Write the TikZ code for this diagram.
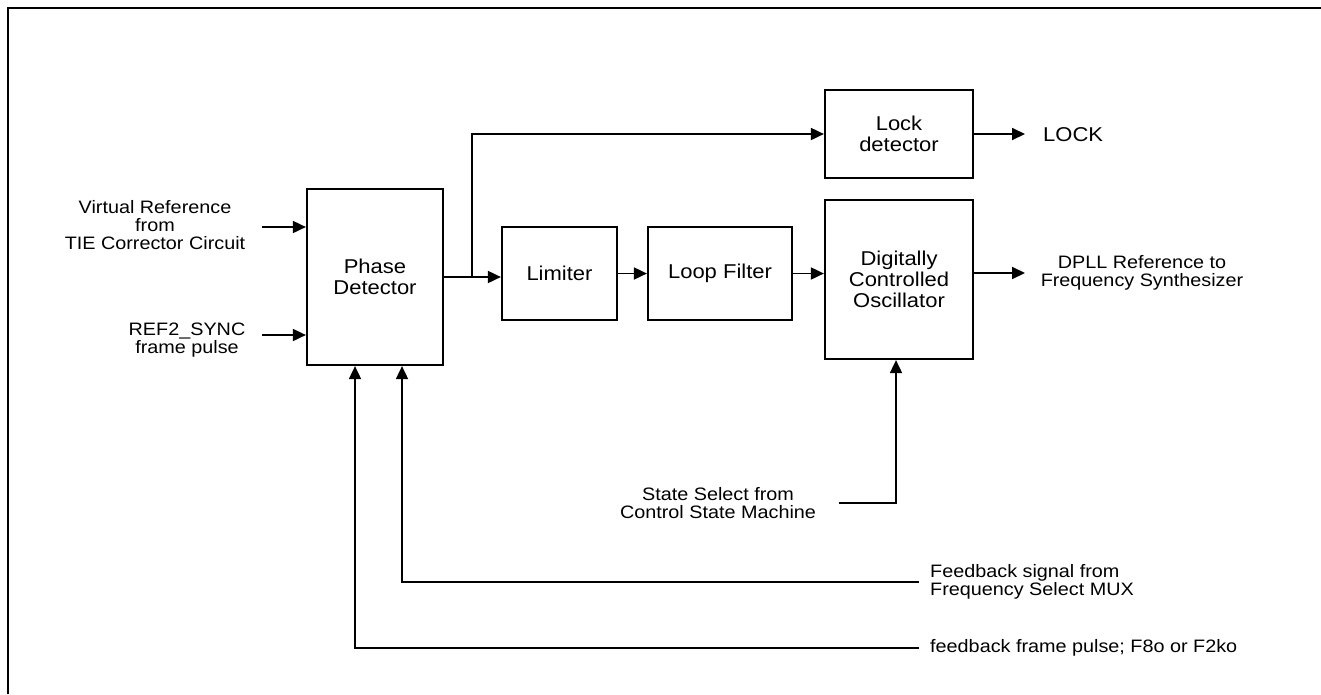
\documentclass[tikz,border=0pt]{standalone}
\usepackage{fontspec}
\setmainfont{Liberation Sans}[FakeStretch=1.1]
\usetikzlibrary{arrows.meta, positioning, calc}

\begin{document}
\begin{tikzpicture}[x=1pt,y=-1pt,>={Triangle[length=13pt,width=12pt]},
    block/.style={draw, line width=2.2pt, align=center, inner sep=0pt, font=\fontsize{20}{21}\selectfont},
    sig/.style={align=center, inner sep=0pt, font=\fontsize{18}{18}\selectfont},
    wire/.style={line width=1.8pt}]

    \useasboundingbox (0,0) rectangle (1321,694);
    \draw[line width=2pt] (8,694) -- (8,8) -- (1321,8);

    \node[block, minimum width=136pt, minimum height=176pt] (PD) at (375,277) {Phase\\Detector};
    \node[block, minimum width=148pt, minimum height=88pt] (Lock) at (899,134) {Lock\\detector};
    \node[block, minimum width=115pt, minimum height=93pt] (Lim) at (559.5,273.5) {Limiter};
    \node[block, minimum width=144pt, minimum height=93pt] (LF) at (720,273.5) {Loop Filter};
    \node[block, minimum width=148pt, minimum height=159pt] (DCO) at (899,279.5) {Digitally\\Controlled\\Oscillator};

    \node[sig] (VRef) at (155,225) {Virtual Reference\\from\\TIE Corrector Circuit};
    \node[sig] (Ref2) at (187,340) {REF2\_SYNC\\frame pulse};
    \node[sig, anchor=west, font=\fontsize{20}{20}\selectfont] (LockOut) at (1043,135) {LOCK};
    \node[sig] (DPLL) at (1142,273) {DPLL Reference to\\Frequency Synthesizer};
    \node[sig] (State) at (718,503) {State Select from\\Control State Machine};
    \node[sig, anchor=west, align=left] (FbSig) at (930,582) {Feedback signal from\\Frequency Select MUX};
    \node[sig, anchor=west] (FbPulse) at (930,648) {feedback frame pulse; F8o or F2ko};

    \coordinate (vin) at (262,227);
    \coordinate (rin) at (262,335);
    \coordinate (tap) at (472,277);
    \coordinate (lockEnd) at (1025,134);
    \coordinate (dcoEnd) at (1025,273);

    \draw[wire,->] (vin) -- (vin -| PD.west);
    \draw[wire,->] (rin) -- (rin -| PD.west);
    \draw[wire,->] (PD.east) -- (PD.east -| Lim.west);
    \draw[wire,->] (tap) |- (Lock.west);
    \draw[wire,->] (Lim.east) -- (Lim.east -| LF.west);
    \draw[wire,->] (LF.east) -- (LF.east -| DCO.west);
    \draw[wire,->] (Lock.east) -- (lockEnd);
    \draw[wire,->] (dcoEnd -| DCO.east) -- (dcoEnd);
    \draw[wire,->] ([xshift=23pt]State.east) -| ([xshift=-3pt]DCO.south);
    \draw[wire,->] ([xshift=-11pt]FbSig.west) -| ([xshift=27pt]PD.south);
    \draw[wire,->] ([xshift=-11pt]FbPulse.west) -| ([xshift=-20pt]PD.south);
\end{tikzpicture}
\end{document}
